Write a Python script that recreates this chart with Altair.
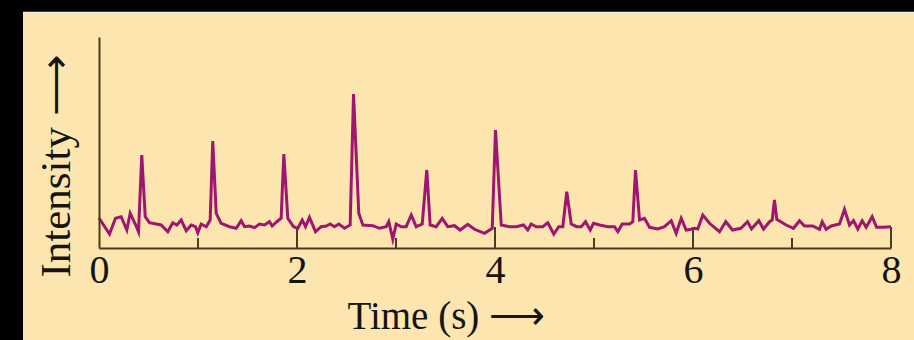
import altair as alt
import pandas as pd

# ---- data (time in s, intensity in arbitrary units) ----
time_s = [0.0, 0.106, 0.167, 0.224, 0.281, 0.315, 0.366, 0.399, 0.432, 0.467,
          0.510, 0.628, 0.695, 0.745, 0.786, 0.830, 0.881, 0.931, 0.975, 0.998,
          1.032, 1.083, 1.123, 1.149, 1.184, 1.234, 1.318, 1.386, 1.436, 1.470,
          1.520, 1.571, 1.621, 1.672, 1.722, 1.749, 1.796, 1.840, 1.867, 1.907,
          1.965, 2.008, 2.053, 2.086, 2.126, 2.187, 2.244, 2.295, 2.335, 2.379,
          2.422, 2.480, 2.537, 2.571, 2.624, 2.665, 2.766, 2.833, 2.901, 2.927,
          2.968, 3.002, 3.053, 3.103, 3.154, 3.204, 3.265, 3.311, 3.345, 3.406,
          3.467, 3.523, 3.591, 3.648, 3.725, 3.793, 3.894, 3.972, 4.005, 4.063,
          4.146, 4.214, 4.288, 4.331, 4.366, 4.416, 4.483, 4.533, 4.594, 4.644,
          4.685, 4.725, 4.770, 4.826, 4.871, 4.914, 4.962, 4.995, 5.056, 5.139,
          5.207, 5.241, 5.285, 5.359, 5.392, 5.419, 5.460, 5.510, 5.561, 5.644,
          5.712, 5.780, 5.830, 5.881, 5.931, 5.982, 6.015, 6.048, 6.099, 6.167,
          6.268, 6.331, 6.399, 6.483, 6.551, 6.591, 6.665, 6.712, 6.773, 6.800,
          6.823, 6.846, 6.941, 7.015, 7.076, 7.126, 7.210, 7.278, 7.305, 7.345,
          7.396, 7.480, 7.530, 7.581, 7.621, 7.665, 7.709, 7.749, 7.810, 7.854,
          7.917, 8.0]
intensity = [30.0, 14.0, 29.7, 31.3, 18.0, 34.7, 24.0, 16.3, 93.0, 31.3,
             25.3, 23.0, 16.3, 25.3, 23.0, 28.0, 17.3, 23.0, 21.3, 15.3,
             24.0, 21.3, 28.0, 107.0, 34.7, 24.7, 21.3, 19.7, 27.3, 21.3,
             22.0, 20.3, 24.0, 23.0, 26.3, 22.0, 26.3, 29.7, 94.0, 29.7,
             21.3, 19.7, 28.0, 21.3, 30.7, 16.3, 21.3, 22.0, 24.0, 21.3,
             24.0, 19.7, 23.0, 154.0, 34.7, 23.0, 22.3, 19.7, 21.3, 26.3,
             8.7, 24.0, 21.3, 21.3, 33.0, 21.3, 24.0, 78.0, 23.0, 21.3,
             29.7, 21.3, 22.3, 18.0, 23.7, 18.7, 14.7, 19.7, 118.0, 23.0,
             21.3, 21.3, 23.0, 18.0, 24.0, 21.3, 21.3, 25.3, 14.0, 21.3,
             21.3, 56.3, 24.0, 21.3, 21.3, 26.3, 18.0, 24.7, 23.0, 21.3,
             21.3, 16.3, 24.0, 24.0, 26.3, 78.0, 28.0, 29.7, 20.7, 19.0,
             21.3, 27.3, 14.7, 29.7, 18.0, 18.7, 19.7, 19.0, 33.0, 24.7,
             16.3, 26.3, 18.0, 19.7, 26.3, 19.0, 27.3, 19.0, 26.3, 28.0,
             48.0, 28.7, 23.0, 19.7, 27.3, 22.0, 22.0, 18.7, 26.3, 18.7,
             22.0, 24.0, 38.7, 23.0, 27.3, 19.0, 27.3, 20.7, 31.3, 20.7,
             20.7, 21.3]

major_ticks = [2, 4, 6, 8]
minor_ticks = [1, 3, 5, 7]
tick_labels = [0, 2, 4, 6, 8]

W, H = 792, 211
BEIGE = "#FCE5AE"
LINE = "#9E166F"
AXIS = "#4A3C1E"
TEXT = "#161310"
FONT = "Liberation Serif"

df = pd.DataFrame({"t": time_s, "v": intensity})

xscale = alt.Scale(domain=[0, 8], nice=False, zero=True)
yscale = alt.Scale(domain=[0, 211], nice=False, zero=True)

# decorative beige panel over the black frame
panel = alt.Chart(pd.DataFrame({"a": [0]})).mark_rect(color=BEIGE).encode(
    x=alt.value(-76), x2=alt.value(815), y=alt.value(-24), y2=alt.value(303)
)
edge = alt.Chart(pd.DataFrame({"a": [0]})).mark_rule(color="#F4EEDC", strokeWidth=1.5).encode(
    x=alt.value(-76), x2=alt.value(815), y=alt.value(-24.5)
)

line = alt.Chart(df).mark_line(color=LINE, strokeWidth=3, strokeJoin="miter", strokeMiterLimit=6).encode(
    x=alt.X(
        "t:Q",
        scale=xscale,
        axis=alt.Axis(
            values=tick_labels,
            format="d",
            grid=False,
            ticks=False,
            tickSize=0,
            labelFlush=False,
            labelFont=FONT,
            labelFontSize=40,
            labelColor=TEXT,
            labelPadding=2,
            domainColor=AXIS,
            domainWidth=2,
            title="Time (s) ⟶",
            titleFont=FONT,
            titleFontSize=39,
            titleFontWeight="normal",
            titleColor=TEXT,
            titleAlign="left",
            titleBaseline="alphabetic",
            titleX=248,
            titleY=80,
            zindex=2,
        ),
    ),
    y=alt.Y(
        "v:Q",
        scale=yscale,
        axis=alt.Axis(
            labels=False,
            ticks=False,
            grid=False,
            domainColor=AXIS,
            domainWidth=2,
            title="Intensity ⟶",
            titleFont=FONT,
            titleFontSize=43,
            titleFontWeight="normal",
            titleColor=TEXT,
            titleAngle=270,
            titleAlign="left",
            titleBaseline="alphabetic",
            titleX=-30,
            titleY=240,
            zindex=2,
        ),
    ),
)

major = alt.Chart(pd.DataFrame({"t": major_ticks})).mark_rule(color=AXIS, strokeWidth=2).encode(
    x=alt.X("t:Q", scale=xscale), y=alt.value(H), y2=alt.value(H - 21)
)
minor = alt.Chart(pd.DataFrame({"t": minor_ticks})).mark_rule(color=AXIS, strokeWidth=2).encode(
    x=alt.X("t:Q", scale=xscale), y=alt.value(H), y2=alt.value(H - 10)
)

chart = (
    alt.layer(panel, edge, major, minor, line)
    .properties(
        width=W,
        height=H,
        background="black",
        padding={"left": 99, "top": 37, "right": 23, "bottom": 92},
        autosize=alt.AutoSizeParams(type="none"),
    )
    .configure_view(stroke=None)
)

chart.save("out.html", embed_options={"renderer": "svg", "actions": False})
